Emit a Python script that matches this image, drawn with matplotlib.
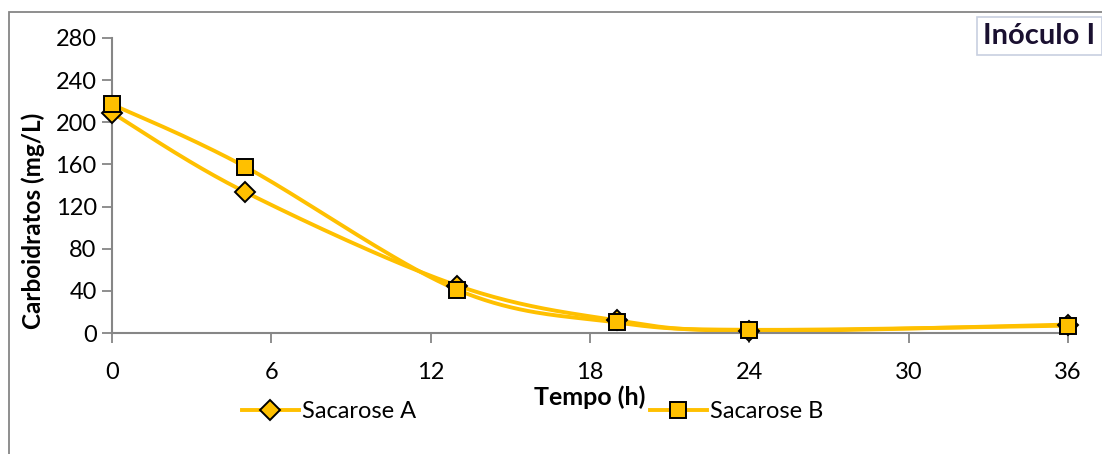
import numpy as np
import matplotlib
matplotlib.use("Agg")
import matplotlib.pyplot as plt
from matplotlib.patches import Rectangle
from matplotlib.lines import Line2D

plt.rcParams['font.family'] = ['Lato', 'DejaVu Sans']

# dados do ensaio
tempo = [0, 5, 13, 19, 24, 36]
sacarose_a = [209, 134, 45, 12, 2, 8]
sacarose_b = [217, 158, 41, 10, 3, 7]
x_ticks = [0, 6, 12, 18, 24, 30, 36]
y_ticks = [0, 40, 80, 120, 160, 200, 240, 280]

gold = '#FFC000'
axis_grey = '#868686'


def suavizar(x, y, n=40):
    # curva suavizada tipo Excel (Bezier com pontos de controle de Catmull-Rom)
    x = np.asarray(x, float)
    y = np.asarray(y, float)
    px = np.concatenate([[x[0]], x, [x[-1]]])
    py = np.concatenate([[y[0]], y, [y[-1]]])
    xs, ys = [], []
    t = np.linspace(0, 1, n)
    for i in range(1, len(px) - 2):
        p0 = np.array([px[i - 1], py[i - 1]])
        p1 = np.array([px[i], py[i]])
        p2 = np.array([px[i + 1], py[i + 1]])
        p3 = np.array([px[i + 2], py[i + 2]])
        c1 = p1 + (p2 - p0) / 6
        c2 = p2 - (p3 - p1) / 6
        b = ((1 - t) ** 3)[:, None] * p1 + (3 * (1 - t) ** 2 * t)[:, None] * c1 \
            + (3 * (1 - t) * t ** 2)[:, None] * c2 + (t ** 3)[:, None] * p2
        xs.extend(b[:, 0])
        ys.extend(b[:, 1])
    return xs, ys


fig = plt.figure(figsize=(11.02, 4.54), dpi=100)
ax = fig.add_axes([112 / 1102, 1 - 333 / 454, (1068 - 112) / 1102, (333 - 38) / 454])

xa, ya = suavizar(tempo, sacarose_a)
xb, yb = suavizar(tempo, sacarose_b)
ax.plot(xa, ya, color=gold, lw=2.8, zorder=2, clip_on=False)
ax.plot(xb, yb, color=gold, lw=2.8, zorder=2, clip_on=False)
ax.plot(tempo, sacarose_a, ls='none', marker='D', ms=10, mfc=gold, mec='black',
        mew=1.4, zorder=3, clip_on=False)
ax.plot(tempo, sacarose_b, ls='none', marker='s', ms=11, mfc=gold, mec='black',
        mew=1.4, zorder=4, clip_on=False)

ax.set_xlim(0, 36)
ax.set_ylim(0, 280)
ax.set_xticks(x_ticks)
ax.set_yticks(y_ticks)
for s in ['top', 'right']:
    ax.spines[s].set_visible(False)
for s in ['left', 'bottom']:
    ax.spines[s].set_color(axis_grey)
    ax.spines[s].set_linewidth(1.5)
ax.tick_params(axis='both', colors=axis_grey, labelcolor='black', labelsize=17,
               length=7, width=1.3, direction='out')
ax.tick_params(axis='x', pad=14)
ax.tick_params(axis='y', pad=4)

fig.text(33 / 1102, 1 - 221 / 454, 'Carboidratos (mg/L)', fontsize=17.5,
         fontweight='bold', rotation=90, ha='center', va='center')
fig.text(590 / 1102, 1 - 397 / 454, 'Tempo (h)', fontsize=18, fontweight='bold',
         ha='center', va='center')

h_a = Line2D([], [], color=gold, lw=2.8, marker='D', ms=10, mfc=gold, mec='black', mew=1.4)
h_b = Line2D([], [], color=gold, lw=2.8, marker='s', ms=11, mfc=gold, mec='black', mew=1.4)
fig.legend([h_a, h_b], ['Sacarose A', 'Sacarose B'], ncol=2, frameon=False,
           loc='center left', bbox_to_anchor=(242 / 1102, 1 - 412 / 454),
           fontsize=17, handlelength=2.4, handletextpad=0.15, columnspacing=9.9,
           borderpad=0, borderaxespad=0)

# borda da área do gráfico
fig.patches.append(Rectangle((9 / 1102, -0.05), 1.1, 1 - 12 / 454 + 0.05,
                             transform=fig.transFigure, fill=False,
                             edgecolor=axis_grey, lw=1.3))

fig.text(983 / 1102, 1 - 36 / 454, 'Inóculo I', fontsize=21, fontweight='bold',
         color='#1a1030', ha='left', va='center',
         bbox=dict(boxstyle='square,pad=0.22', fc='white', ec='#c8d0e0', lw=1.2))

fig.savefig('out.png', dpi=100)
